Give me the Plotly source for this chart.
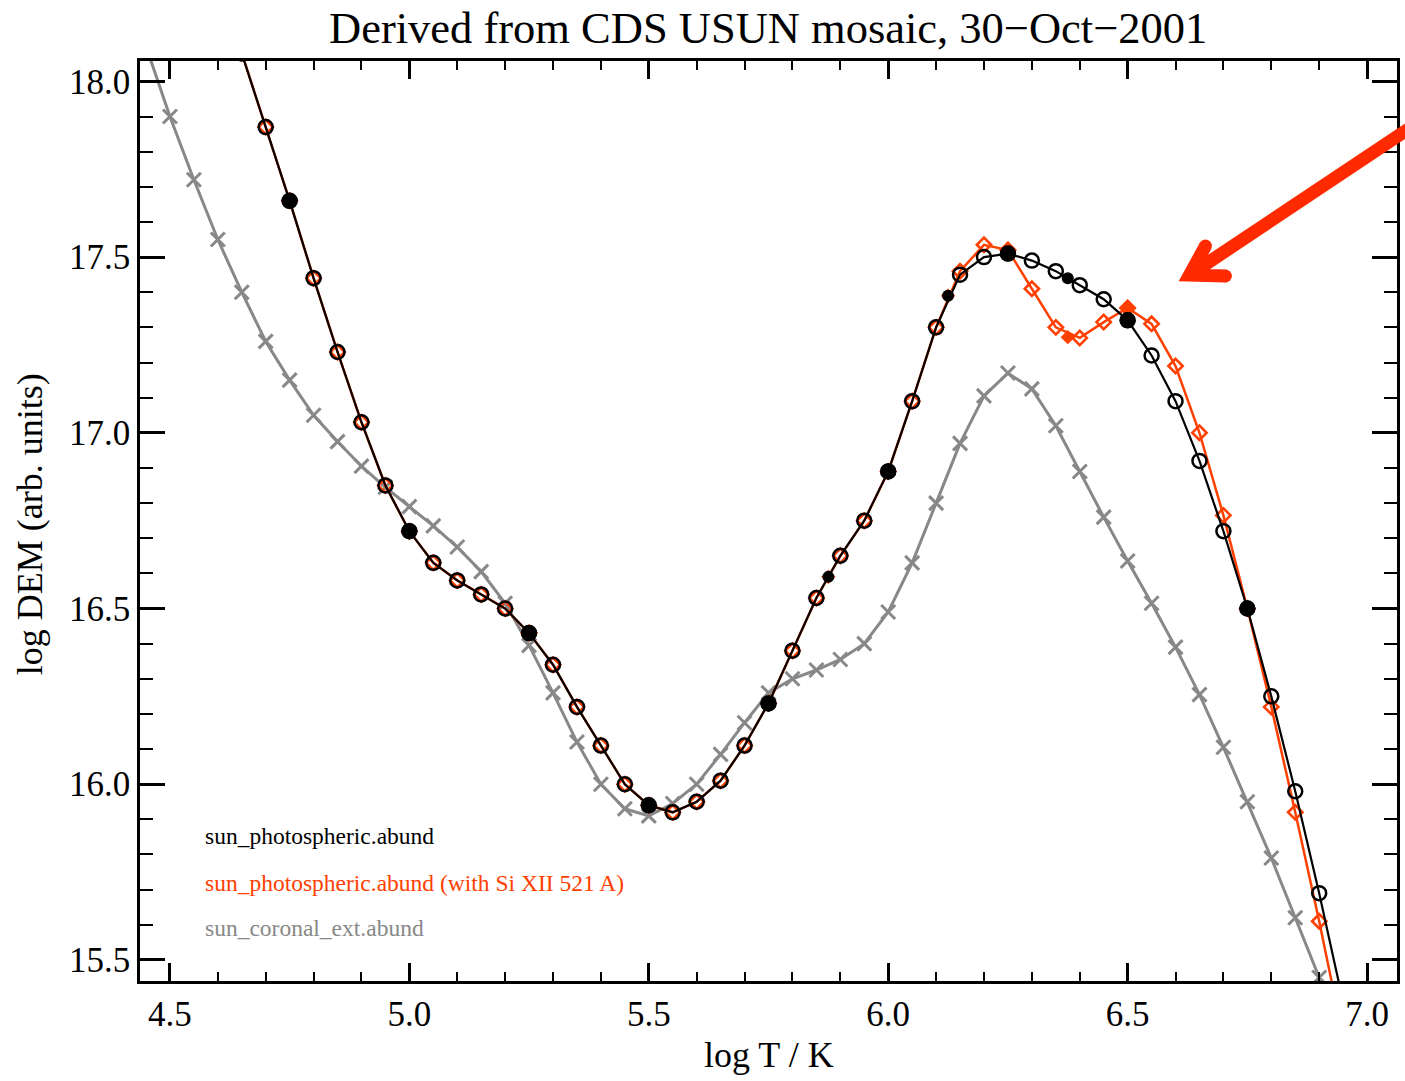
import plotly.graph_objects as go

# ---------------- data ----------------
logT_phot = [4.60, 4.65, 4.70, 4.75, 4.80, 4.85, 4.90, 4.95, 5.00, 5.05, 5.10, 5.15,
             5.20, 5.25, 5.30, 5.35, 5.40, 5.45, 5.50, 5.55, 5.60, 5.65, 5.70, 5.75,
             5.80, 5.85, 5.90, 5.95, 6.00, 6.05, 6.10, 6.15, 6.20, 6.25, 6.30, 6.35,
             6.40, 6.45, 6.50, 6.55, 6.60, 6.65, 6.70, 6.75, 6.80, 6.85, 6.90, 6.95]

dem_phot = [18.28, 18.08, 17.87, 17.66, 17.44, 17.23, 17.03, 16.85, 16.72, 16.63, 16.58, 16.54,
            16.50, 16.43, 16.34, 16.22, 16.11, 16.00, 15.94, 15.92, 15.95, 16.01, 16.11, 16.23,
            16.38, 16.53, 16.65, 16.75, 16.89, 17.09, 17.30, 17.45, 17.50, 17.51, 17.49, 17.46,
            17.42, 17.38, 17.32, 17.22, 17.09, 16.92, 16.72, 16.50, 16.25, 15.98, 15.69, 15.38]

dem_phot_si = [18.28, 18.08, 17.87, 17.66, 17.44, 17.23, 17.03, 16.85, 16.72, 16.63, 16.58, 16.54,
               16.50, 16.43, 16.34, 16.22, 16.11, 16.00, 15.94, 15.92, 15.95, 16.01, 16.11, 16.23,
               16.38, 16.53, 16.65, 16.75, 16.89, 17.09, 17.30, 17.46, 17.535, 17.52, 17.41, 17.30,
               17.27, 17.315, 17.355, 17.31, 17.19, 17.00, 16.765, 16.50, 16.22, 15.92, 15.61, 15.28]

logT_nodes = [4.75, 5.00, 5.25, 5.50, 5.75, 5.875, 6.00, 6.125, 6.25, 6.375, 6.50, 6.75]
node_phot = [17.66, 16.72, 16.43, 15.94, 16.23, 16.59, 16.89, 17.39, 17.51, 17.44, 17.32, 16.50]
node_phot_si = [17.66, 16.72, 16.43, 15.94, 16.23, 16.59, 16.89, 17.39, 17.52, 17.272, 17.355, 16.50]
node_big = [True, True, True, True, True, False, True, False, True, False, True, True]

logT_cor = [4.45, 4.50, 4.55, 4.60, 4.65, 4.70, 4.75, 4.80, 4.85, 4.90, 4.95,
            5.00, 5.05, 5.10, 5.15, 5.20, 5.25, 5.30, 5.35, 5.40, 5.45,
            5.50, 5.55, 5.60, 5.65, 5.70, 5.75, 5.80, 5.85, 5.90, 5.95,
            6.00, 6.05, 6.10, 6.15, 6.20, 6.25, 6.30, 6.35, 6.40, 6.45,
            6.50, 6.55, 6.60, 6.65, 6.70, 6.75, 6.80, 6.85, 6.90, 6.95]
dem_cor = [18.10, 17.90, 17.72, 17.55, 17.40, 17.26, 17.15, 17.05, 16.975, 16.905, 16.845,
           16.79, 16.735, 16.675, 16.605, 16.515, 16.395, 16.26, 16.12, 16.00, 15.93,
           15.91, 15.945, 16.00, 16.085, 16.175, 16.26, 16.30, 16.325, 16.355, 16.40,
           16.49, 16.63, 16.80, 16.97, 17.105, 17.17, 17.125, 17.02, 16.89, 16.76,
           16.635, 16.515, 16.39, 16.255, 16.105, 15.95, 15.79, 15.62, 15.45, 15.27]

labels = ["sun_photospheric.abund",
          "sun_photospheric.abund (with Si XII 521 A)",
          "sun_coronal_ext.abund"]
title_text = "Derived from CDS USUN mosaic, 30\u2212Oct\u22122001"
xtitle = "log T / K"
ytitle = "log DEM (arb. units)"

# ---------------- style ----------------
BLACK = "#000000"
ORANGE = "#ff4000"
GRAY = "#888888"
ARROW = "#ff2a00"
FONT = "Liberation Serif"

W, H = 1405, 1081
ML, MR, MT, MB = 140, 5, 61, 100
PW, PH = W - ML - MR, H - MT - MB


def px(x):
    return (x - ML) / PW


def py(y):
    return (H - MB - y) / PH


fig = go.Figure()

# coronal (gray)
fig.add_trace(go.Scatter(
    x=logT_cor, y=dem_cor, mode="lines+markers",
    line=dict(color=GRAY, width=3),
    marker=dict(symbol="x-thin-open", size=14, opacity=1, line=dict(color=GRAY, width=3)),
    showlegend=False))

# photospheric with Si XII (orange)
fig.add_trace(go.Scatter(
    x=logT_phot, y=dem_phot_si, mode="lines+markers",
    line=dict(color=ORANGE, width=2.5),
    marker=dict(symbol="diamond-open", size=11, opacity=1, line=dict(color=ORANGE, width=2.6)),
    showlegend=False))
fig.add_trace(go.Scatter(
    x=logT_nodes, y=node_phot_si, mode="markers",
    marker=dict(symbol="diamond", size=[13 if b else 11 for b in node_big],
                color=ORANGE, opacity=1, line=dict(width=0)),
    showlegend=False))

# photospheric (black)
fig.add_trace(go.Scatter(
    x=logT_phot, y=dem_phot, mode="lines+markers",
    line=dict(color=BLACK, width=2.2),
    marker=dict(symbol="circle-open", size=14, opacity=1, line=dict(color=BLACK, width=2.5)),
    showlegend=False))
fig.add_trace(go.Scatter(
    x=logT_nodes, y=node_phot, mode="markers",
    marker=dict(symbol="circle", size=[16 if b else 12 for b in node_big],
                color=BLACK, opacity=1, line=dict(width=0)),
    showlegend=False))

axis_common = dict(
    showline=True, linecolor=BLACK, linewidth=2.5, mirror="allticks",
    ticks="inside", tickcolor=BLACK, tickwidth=2.5,
    showgrid=False, zeroline=False, tickformat=".1f",
    tickfont=dict(family=FONT, size=35, color=BLACK),
)

fig.update_xaxes(range=[4.4375, 7.0625], tick0=4.5, dtick=0.5, ticklen=18,
                 minor=dict(dtick=0.1, ticklen=9, tickwidth=2, ticks="inside", tickcolor=BLACK),
                 **axis_common)
fig.update_yaxes(range=[15.44, 18.058], tick0=15.5, dtick=0.5, ticklen=25,
                 minor=dict(dtick=0.1, ticklen=13, tickwidth=2, ticks="inside", tickcolor=BLACK),
                 **axis_common)

annotations = [
    dict(text=title_text, x=px(769), y=py(28), xref="paper", yref="paper",
         xanchor="center", yanchor="middle", showarrow=False,
         font=dict(family=FONT, size=44.5, color=BLACK)),
    dict(text=xtitle, x=px(770), y=py(1055), xref="paper", yref="paper",
         xanchor="center", yanchor="middle", showarrow=False,
         font=dict(family=FONT, size=36, color=BLACK)),
    dict(text=ytitle, x=px(30), y=py(524), xref="paper", yref="paper",
         xanchor="center", yanchor="middle", showarrow=False, textangle=-90,
         font=dict(family=FONT, size=36, color=BLACK)),
]
for lab, col, yy in zip(labels, [BLACK, ORANGE, GRAY], [836, 883, 928]):
    annotations.append(dict(text=lab, x=px(203), y=py(yy), xref="paper", yref="paper",
                            xanchor="left", yanchor="middle", showarrow=False,
                            font=dict(family=FONT, size=23.5, color=col)))

# arrow (pixel geometry converted to paper coordinates)
join = (1192, 275)
tail = (1440, 110)
b1 = (1208, 246)
b2 = (1228, 276)
AW = 13
path = (f"M {px(tail[0])},{py(tail[1])} L {px(join[0])},{py(join[1])} "
        f"M {px(b1[0])},{py(b1[1])} L {px(join[0])},{py(join[1])} L {px(b2[0])},{py(b2[1])}")
shapes = [dict(type="path", path=path, xref="paper", yref="paper",
               line=dict(color=ARROW, width=AW))]
r = AW / 2
for bx, by in (b1, b2):
    shapes.append(dict(type="circle", xref="paper", yref="paper",
                       x0=px(bx - r), x1=px(bx + r), y0=py(by + r), y1=py(by - r),
                       fillcolor=ARROW, line=dict(width=0)))

fig.update_layout(
    width=W, height=H,
    margin=dict(l=ML, r=MR, t=MT, b=MB, pad=0),
    paper_bgcolor="white", plot_bgcolor="white",
    annotations=annotations, shapes=shapes,
    showlegend=False,
)

fig.write_html("out.html")
